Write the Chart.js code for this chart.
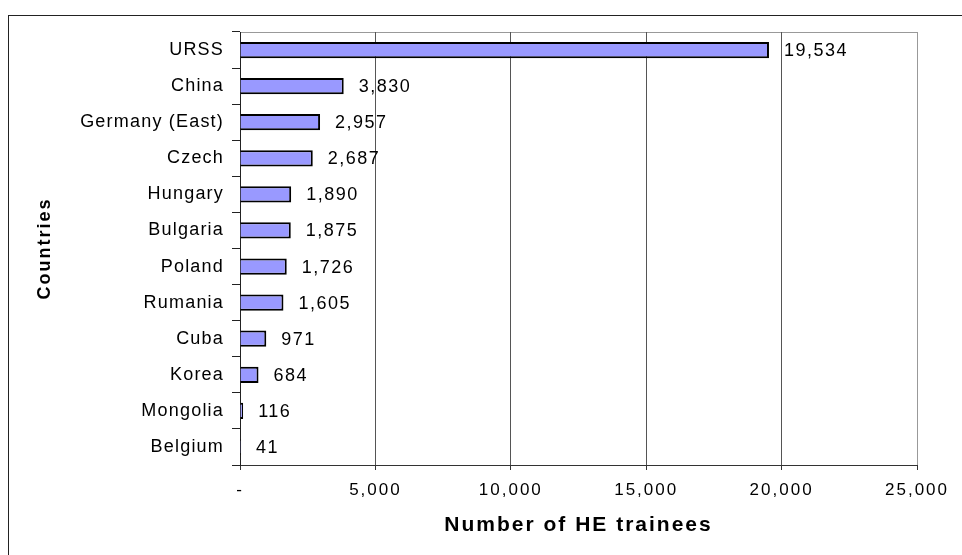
<!DOCTYPE html>
<html>
<head>
<meta charset="utf-8">
<script src="https://cdn.jsdelivr.net/npm/chart.js@4"></script>
<style>
html, body { margin:0; padding:0; background:#fff; }
#wrap { width:962px; height:555px; }
</style>
</head>
<body>
<div id="wrap"><canvas id="myChart" width="962" height="555"></canvas></div>
<script>
const countries = ['URSS','China','Germany (East)','Czech','Hungary','Bulgaria','Poland','Rumania','Cuba','Korea','Mongolia','Belgium'];
const trainees = [19534,3830,2957,2687,1890,1875,1726,1605,971,684,116,41];
const xTicks = [0,5000,10000,15000,20000,25000];
const xTitle = 'Number of HE trainees';
const yTitle = 'Countries';

const family = '"Liberation Sans", Arial, sans-serif';

// outer frame, plot border, value labels; letter spacing to mimic the wide text
const frame = {
    id: 'frame',
    beforeDraw(chart){
        const ctx = chart.ctx, a = chart.chartArea;
        ctx.save();
        ctx.fillStyle = '#fff';
        ctx.fillRect(0, 0, chart.width, chart.height);
        ctx.strokeStyle = '#222';
        ctx.lineWidth = 1;
        ctx.strokeRect(8.5, 15.5, chart.width, chart.height);
        ctx.strokeStyle = '#999';
        ctx.strokeRect(a.left + 0.5, a.top + 0.5, a.right - a.left, a.bottom - a.top);
        ctx.restore();
        ctx.letterSpacing = '2px';
    },
    afterDatasetsDraw(chart){
        const ctx = chart.ctx;
        const meta = chart.getDatasetMeta(0);
        ctx.letterSpacing = '1.5px';
        ctx.save();
        ctx.font = '18px ' + family;
        ctx.fillStyle = '#000';
        ctx.textAlign = 'left';
        ctx.textBaseline = 'middle';
        meta.data.forEach((bar, i) => {
            ctx.fillText(trainees[i].toLocaleString('en-US'), bar.x + 15, bar.y + 1);
        });
        ctx.restore();
        ctx.letterSpacing = '1.2px';
    },
    afterDraw(chart){
        chart.ctx.letterSpacing = '0px';
    }
};

const data = {
    labels: countries,
    datasets: [{
        data: trainees,
        backgroundColor: '#9999FF',
        borderColor: '#000',
        borderWidth: 2,
        barPercentage: 0.45,
        categoryPercentage: 1
    }]
};

const config = {
    type: 'bar',
    data: data,
    options: {
        indexAxis: 'y',
        responsive: false,
        animation: false,
        layout: { padding: { left: 30, top: 32, right: 45, bottom: 0 } },
        plugins: { legend: { display: false }, tooltip: { enabled: false } },
        scales: {
            x: {
                min: 0,
                max: 25000,
                afterBuildTicks(scale){ scale.ticks = xTicks.map(v => ({ value: v })); },
                afterFit(scale){ scale.height = 90; },
                grid: {
                    color: c => (c.tick && c.tick.value === 25000) ? '#999' : '#555',
                    tickColor: '#333',
                    tickLength: 5
                },
                border: { color: '#333' },
                ticks: {
                    color: '#000',
                    font: { family: family, size: 17 },
                    padding: 10,
                    maxRotation: 0,
                    callback: v => v === 0 ? '-' : v.toLocaleString('en-US')
                },
                title: {
                    display: true,
                    text: xTitle,
                    color: '#000',
                    font: { family: family, size: 21, weight: 'bold' },
                    padding: { top: 0, bottom: 17 }
                }
            },
            y: {
                afterFit(scale){ scale.width = 210; },
                grid: {
                    drawOnChartArea: false,
                    offset: true,
                    tickColor: '#222',
                    tickLength: 8
                },
                border: { color: '#222' },
                ticks: {
                    z: 1,
                    color: '#000',
                    font: { family: family, size: 18 },
                    padding: 8,
                    autoSkip: false
                },
                title: {
                    display: true,
                    text: yTitle,
                    color: '#000',
                    font: { family: family, size: 18, weight: 'bold' },
                    padding: { top: 4, bottom: 0 }
                }
            }
        }
    },
    plugins: [frame]
};

const myChart = new Chart(document.getElementById('myChart').getContext('2d'), config);
</script>
</body>
</html>
